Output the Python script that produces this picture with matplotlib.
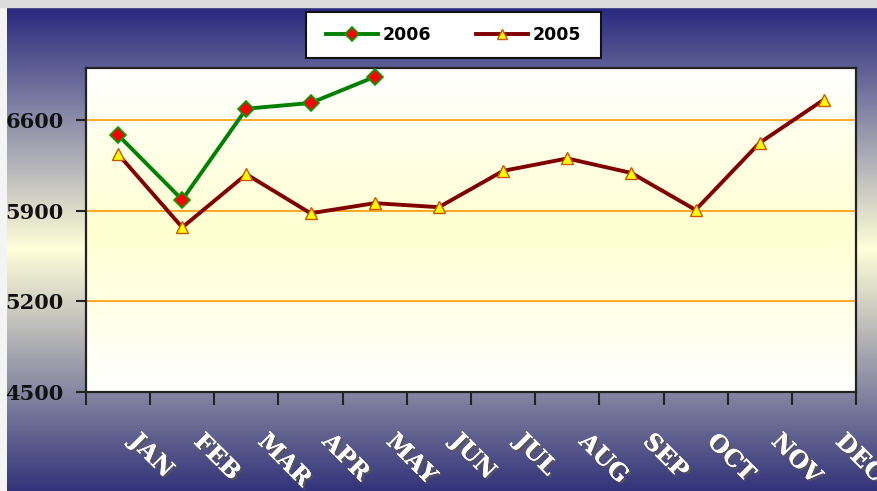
import numpy as np
import matplotlib
matplotlib.use("Agg")
import matplotlib.pyplot as plt
from matplotlib.colors import LinearSegmentedColormap
from matplotlib.transforms import ScaledTranslation
import matplotlib.patheffects as pe

months = ["JAN", "FEB", "MAR", "APR", "MAY", "JUN", "JUL", "AUG", "SEP", "OCT", "NOV", "DEC"]
sales_2006 = [6483, 5983, 6686, 6730, 6932]
sales_2005 = [6336, 5770, 6180, 5879, 5957, 5926, 6206, 6302, 6190, 5905, 6423, 6756]
yticks = [4500, 5200, 5900, 6600]

W, H = 878, 491
fig = plt.figure(figsize=(W / 100, H / 100), dpi=100)
fig.patch.set_facecolor("#f4f4f4")

# background gradient (navy -> light yellow -> navy)
bg = fig.add_axes([7 / W, 0, 1 - 7 / W, 1 - 7 / H], zorder=-10)
bg_cmap = LinearSegmentedColormap.from_list(
    "bg", [(0.0, (0.16, 0.16, 0.50)), (0.5, (1.0, 1.0, 0.85)), (1.0, (0.20, 0.20, 0.48))])
bg.imshow(np.linspace(0, 1, 256).reshape(-1, 1), aspect="auto", cmap=bg_cmap,
          extent=[0, 1, 0, 1], origin="upper")
bg.set_axis_off()
# top grey strip
fig.patches.append(plt.Rectangle((0, 1 - 7 / H), 1, 7 / H, transform=fig.transFigure,
                                 color="#dcdcdc", zorder=-5))

ax = fig.add_axes([86 / W, 1 - 392 / H, (856 - 86) / W, (392 - 68) / H])
x = np.arange(len(months))
ax.set_xlim(-0.5, len(months) - 0.5)
ax.set_ylim(4500, 7000)

# plot area gradient white -> light yellow -> white
pa_cmap = LinearSegmentedColormap.from_list(
    "pa", [(0.0, (1, 1, 1)), (0.5, (1.0, 1.0, 0.82)), (1.0, (1, 1, 1))])
ax.imshow(np.linspace(0, 1, 256).reshape(-1, 1), aspect="auto", cmap=pa_cmap,
          extent=[-0.5, len(months) - 0.5, 4500, 7000], origin="upper", zorder=0)

for yv in yticks[1:]:
    ax.axhline(yv, color="#ff9900", lw=1.2, zorder=1)

ax.plot(x[:len(sales_2006)], sales_2006, color="#008000", lw=2.8, marker="D",
        ms=8.5, mfc="#ff0000", mec="#00a000", mew=1.2, label="2006", zorder=4)
ax.plot(x, sales_2005, color="#800000", lw=2.8, marker="^",
        ms=9, mfc="#ffff00", mec="#cc5500", mew=1.0, label="2005", zorder=3)

for s in ax.spines.values():
    s.set_color("#222222")
    s.set_linewidth(1.6)

ax.set_yticks(yticks)
ax.set_yticklabels([str(v) for v in yticks], fontfamily="DejaVu Serif",
                   fontweight="bold", fontsize=15, color="#111111")
ax.tick_params(axis="y", length=7, width=1.5, pad=9, color="#222222")

ax.set_xticks(np.arange(-0.5, len(months), 1.0), minor=True)
ax.set_xticks(x)
ax.set_xticklabels(months, rotation=-45, ha="left", va="top", rotation_mode="anchor",
                   fontfamily="DejaVu Serif", fontweight="bold", fontsize=17, color="white")
ax.tick_params(axis="x", which="major", length=0, pad=0)
ax.tick_params(axis="x", which="minor", length=9, width=1.5, color="#222222")
off = ScaledTranslation(0.24, -0.37, fig.dpi_scale_trans)
for lab in ax.get_xticklabels():
    lab.set_transform(lab.get_transform() + off)
    lab.set_path_effects([pe.withSimplePatchShadow(offset=(1.5, -1.5), shadow_rgbFace="#555555", alpha=0.9),
                          pe.Normal()])

# legend box
lx0, ly0, lx1, ly1 = 306, 12, 601, 58
fig.patches.append(plt.Rectangle((lx0 / W, 1 - ly1 / H), (lx1 - lx0) / W, (ly1 - ly0) / H,
                                 transform=fig.transFigure, facecolor="white",
                                 edgecolor="#111111", lw=1.5, zorder=5))
leg = fig.legend(loc="center", bbox_to_anchor=((lx0 + lx1) / 2 / W, 1 - (ly0 + ly1) / 2 / H),
                 ncol=2, frameon=False,
                 prop={"family": "DejaVu Sans", "weight": "bold", "size": 12.5},
                 handlelength=3.0, handletextpad=0.25, columnspacing=2.6,
                 borderpad=0, borderaxespad=0, markerscale=0.85)
leg.set_zorder(6)

fig.savefig("out.png", dpi=100)
